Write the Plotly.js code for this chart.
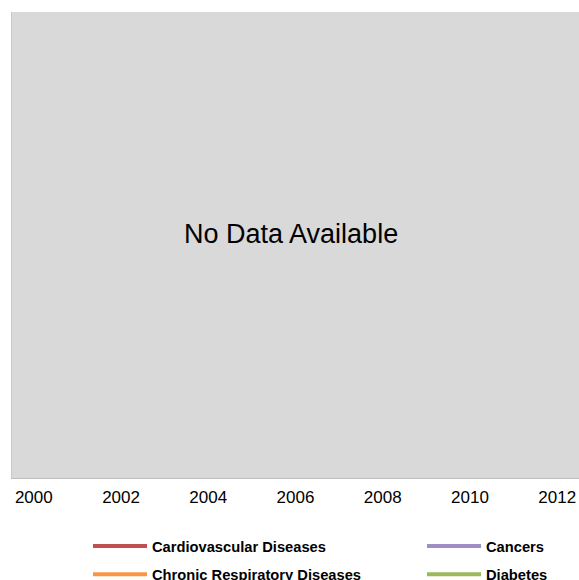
<!DOCTYPE html>
<html>
<head>
<meta charset="utf-8">
<script src="https://cdn.plot.ly/plotly-3.0.1.min.js"></script>
<style>html,body{margin:0;padding:0;background:#fff;}#chart{width:579px;height:580px;}</style>
</head>
<body>
<div id="chart"></div>
<script>
// Data (the reference shows "No Data Available": every series is empty)
const years = [2000, 2002, 2004, 2006, 2008, 2010, 2012];
const tickLabels = ["2000", "2002", "2004", "2006", "2008", "2010", "2012"];
const seriesNames = ["Cardiovascular Diseases", "Chronic Respiratory Diseases", "Cancers", "Diabetes"];
const cardiovascular = [null, null, null, null, null, null, null];
const chronicRespiratory = [null, null, null, null, null, null, null];
const cancers = [null, null, null, null, null, null, null];
const diabetes = [null, null, null, null, null, null, null];
const seriesColors = ["#c0504d", "#f79646", "#a08cc6", "#9bbb59"];
const seriesLegends = ["legend", "legend", "legend2", "legend2"];
const noDataText = "No Data Available";

const seriesValues = [cardiovascular, chronicRespiratory, cancers, diabetes];
const traces = seriesNames.map((name, i) => ({
  type: "scatter",
  mode: "lines",
  x: years,
  y: seriesValues[i],
  name: name,
  legend: seriesLegends[i],
  legendgroup: "g" + i,
  line: {color: seriesColors[i], width: 4},
  showlegend: true
}));

const font = "Liberation Sans, Arial, sans-serif";
const legendBase = {
  orientation: "v",
  xanchor: "left",
  y: -0.1116,
  yanchor: "top",
  itemwidth: 54,
  tracegroupgap: 6,
  traceorder: "grouped",
  bgcolor: "rgba(0,0,0,0)",
  font: {family: font, size: 14.7, color: "#000000", weight: "bold"}
};
const layout = {
  width: 579,
  height: 580,
  margin: {l: 12, r: 0, t: 12, b: 102, autoexpand: false},
  paper_bgcolor: "#ffffff",
  plot_bgcolor: "#d9d9d9",
  showlegend: true,
  xaxis: {
    range: [1999.5, 2012.5],
    tickvals: years,
    ticktext: tickLabels,
    showgrid: false,
    zeroline: false,
    showline: true,
    linecolor: "#bfbfbf",
    linewidth: 1,
    ticks: "outside",
    ticklen: 4,
    tickcolor: "rgba(0,0,0,0)",
    tickfont: {family: font, size: 17, color: "#000000"},
    fixedrange: true
  },
  yaxis: {
    range: [0, 1],
    showgrid: false,
    zeroline: false,
    showticklabels: false,
    showline: true,
    linecolor: "#c8c8c8",
    linewidth: 1,
    ticks: "",
    fixedrange: true
  },
  legend: Object.assign({}, legendBase, {x: (88 - 12) / 567}),
  legend2: Object.assign({}, legendBase, {x: (422 - 12) / 567}),
  annotations: [{
    text: noDataText,
    xref: "paper", yref: "paper",
    x: 0.4925, y: 0.523,
    xanchor: "center", yanchor: "middle",
    showarrow: false,
    font: {family: font, size: 27, color: "#000000"}
  }]
};

Plotly.newPlot("chart", traces, layout, {displayModeBar: false, staticPlot: true});
</script>
</body>
</html>
